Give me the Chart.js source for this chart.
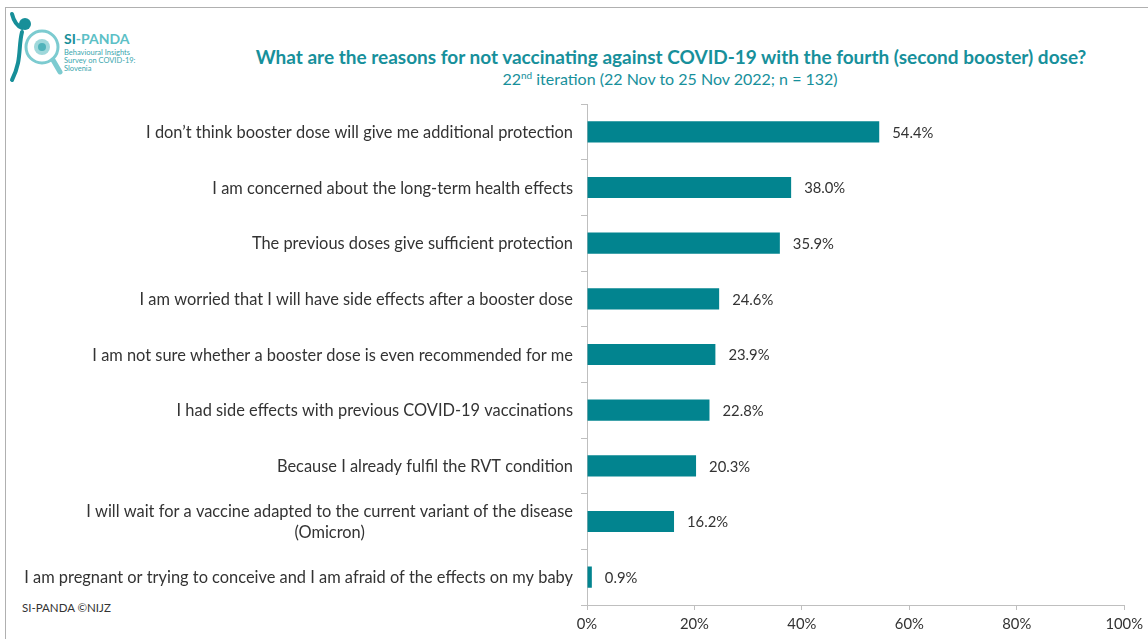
<!DOCTYPE html>
<html>
<head>
<meta charset="utf-8">
<script src="https://cdn.jsdelivr.net/npm/chart.js@4"></script>
<style>
  body { margin: 0; background: #fff; font-family: Lato, "Liberation Sans", sans-serif; }
  #wrap { position: relative; width: 1148px; height: 639px; overflow: hidden; }
  #frame { position: absolute; left: 5px; top: 7px; right: -2px; bottom: -2px; border-top: 1px solid #b0b0b0; border-left: 1px solid #b0b0b0; }
  #title { position: absolute; left: 200px; width: 942px; top: 45px; text-align: center; color: #17909b; font-weight: bold; font-size: 19px; }
  #subtitle { position: absolute; left: 200px; width: 940px; top: 69px; text-align: center; color: #17909b; font-size: 16px; }
  #subtitle sup { font-size: 10px; }
  #footer { position: absolute; left: 22px; top: 601px; font-size: 11.5px; color: #333; }
  #logo { position: absolute; left: 8px; top: 10px; }
  canvas { position: absolute; left: 0; top: 0; }
</style>
</head>
<body>
<div id="wrap">
  <div id="frame"></div>
  <svg id="logo" width="140" height="80" viewBox="0 0 140 80">
    <path d="M4 4 C6 12 9 16 14 18" stroke="#178f99" stroke-width="4" fill="none" stroke-linecap="round"/>
    <circle cx="17" cy="14" r="6" fill="#178f99"/>
    <path d="M14 22 C10 38 14 50 4 70" stroke="#178f99" stroke-width="4" fill="none" stroke-linecap="round"/>
    <circle cx="34" cy="37" r="16" stroke="#7ccbd0" stroke-width="3" fill="#fff"/>
    <circle cx="34" cy="37" r="8" fill="#9fd8db"/>
    <circle cx="34" cy="37" r="4" fill="#4fb3ba"/>
    <path d="M45 50 L52 62" stroke="#7ccbd0" stroke-width="5" stroke-linecap="round"/>
    <text x="56" y="34" font-family="Lato" font-weight="bold" font-size="14" fill="#178f99">SI<tspan fill="#5cc0c6">-PANDA</tspan></text>
    <text x="56" y="45" font-family="Lato" font-size="7.5" fill="#3aa6ae">Behavioural Insights</text>
    <text x="56" y="53" font-family="Lato" font-size="7.5" fill="#3aa6ae">Survey on COVID-19:</text>
    <text x="56" y="61" font-family="Lato" font-size="7.5" fill="#3aa6ae">Slovenia</text>
  </svg>
  <div id="title">What are the reasons for not vaccinating against COVID-19 with the fourth (second booster) dose?</div>
  <div id="subtitle">22<sup>nd</sup> iteration (22 Nov to 25 Nov 2022; n = 132)</div>
  <div id="footer">SI-PANDA ©NIJZ</div>
  <canvas id="myChart" width="1148" height="639"></canvas>
</div>
<script>
const reasons = [
  "I don’t think booster dose will give me additional protection",
  "I am concerned about the long-term health effects",
  "The previous doses give sufficient protection",
  "I am worried that I will have side effects after a booster dose",
  "I am not sure whether a booster dose is even recommended for me",
  "I had side effects with previous COVID-19 vaccinations",
  "Because I already fulfil the RVT condition",
  ["I will wait for a vaccine adapted to the current variant of the disease", "(Omicron)"],
  "I am pregnant or trying to conceive and I am afraid of the effects on my baby"
];
const shares = [54.4, 38.0, 35.9, 24.6, 23.9, 22.8, 20.3, 16.2, 0.9];
const xTicks = [0, 20, 40, 60, 80, 100];

const barColor = "#02848f";
const axisColor = "#bfbfbf";
const textColor = "#333333";
const catFont = "16.4px Lato, sans-serif";
const valueFont = "14.8px Lato, sans-serif";

// category labels, drawn so wrapped lines are centred inside their block
const reasonLabels = {
  id: "reasonLabels",
  afterDraw(chart) {
    const ctx = chart.ctx;
    const yScale = chart.scales.y;
    const rightX = 573;
    ctx.save();
    ctx.font = catFont;
    ctx.fillStyle = textColor;
    ctx.textAlign = "center";
    ctx.textBaseline = "middle";
    reasons.forEach((label, i) => {
      const lines = Array.isArray(label) ? label : [label];
      const w = Math.max(...lines.map(l => ctx.measureText(l).width));
      const cx = rightX - w / 2;
      const lh = 21;
      const y0 = yScale.getPixelForTick(i) + 1 - (lines.length - 1) * lh / 2;
      lines.forEach((l, k) => ctx.fillText(l, cx, y0 + k * lh));
    });
    ctx.restore();
  }
};

const valueLabels = {
  id: "valueLabels",
  afterDatasetsDraw(chart) {
    const ctx = chart.ctx;
    const meta = chart.getDatasetMeta(0);
    ctx.save();
    ctx.font = valueFont;
    ctx.fillStyle = textColor;
    ctx.textAlign = "left";
    ctx.textBaseline = "middle";
    meta.data.forEach((bar, i) => {
      ctx.fillText(shares[i].toFixed(1) + "%", bar.x + 13, bar.y + 1);
    });
    ctx.restore();
  }
};

new Chart(document.getElementById("myChart"), {
  type: "bar",
  data: {
    labels: reasons,
    datasets: [{
      data: shares,
      backgroundColor: barColor,
      borderWidth: 0,
      categoryPercentage: 1,
      barPercentage: 0.38
    }]
  },
  options: {
    indexAxis: "y",
    responsive: false,
    animation: false,
    layout: { padding: { top: 104, right: 20, left: 0, bottom: 0 } },
    plugins: {
      legend: { display: false },
      tooltip: { enabled: false }
    },
    scales: {
      x: {
        min: 0,
        max: 100,
        afterBuildTicks: scale => { scale.ticks = xTicks.map(v => ({ value: v })); },
        afterFit: scale => { scale.height = 34; },
        grid: { drawOnChartArea: false, drawTicks: true, tickLength: 5, color: axisColor },
        border: { color: axisColor },
        ticks: {
          padding: 5,
          color: textColor,
          font: { family: "Lato", size: 14.8 },
          callback: v => v + "%"
        }
      },
      y: {
        afterFit: scale => { scale.width = 587; },
        grid: { drawOnChartArea: false, offset: true, tickLength: 6, color: axisColor },
        border: { color: axisColor },
        ticks: { display: false }
      }
    }
  },
  plugins: [reasonLabels, valueLabels]
});
</script>
</body>
</html>
